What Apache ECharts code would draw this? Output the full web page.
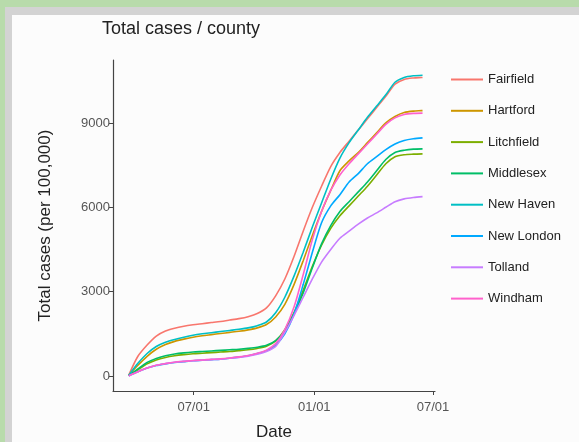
<!DOCTYPE html>
<html>
<head>
<meta charset="utf-8">
<script src="https://cdn.jsdelivr.net/npm/echarts@6/dist/echarts.min.js"></script>
<style>
html,body{margin:0;padding:0;width:579px;height:442px;overflow:hidden;background:#b8dbab;}
#frame{position:absolute;left:5px;top:7px;right:0;bottom:0;background:#d3d3d3;}
#inner{position:absolute;left:12px;top:15px;right:0;bottom:0;background:#fcfcfc;}
#chart{position:absolute;left:0;top:0;width:579px;height:442px;}
</style>
</head>
<body>
<div id="frame"></div>
<div id="inner"></div>
<div id="chart"></div>
<script>
var dates = ['2020-03-24','2020-04-07','2020-04-21','2020-05-05','2020-05-19','2020-06-02','2020-06-16','2020-06-30','2020-07-14','2020-07-28','2020-08-11','2020-08-25','2020-09-08','2020-09-22','2020-10-06','2020-10-20','2020-11-03','2020-11-17','2020-12-01','2020-12-15','2020-12-29','2021-01-12','2021-01-26','2021-02-09','2021-02-23','2021-03-09','2021-03-23','2021-04-06','2021-04-20','2021-05-04','2021-05-18','2021-06-01','2021-06-15'];

var counties = ['Fairfield','Hartford','Litchfield','Middlesex','New Haven','New London','Tolland','Windham'];
var colors = ['#F8766D','#CD9600','#7CAE00','#00BE67','#00BFC4','#00A9FF','#C77CFF','#FF61CC'];

var fairfield  = [30,700,1100,1420,1600,1700,1770,1820,1860,1900,1940,1990,2040,2110,2220,2420,2850,3450,4250,5150,6000,6750,7450,7950,8350,8750,9150,9550,9950,10380,10550,10600,10620];
var hartford   = [20,380,700,950,1120,1230,1310,1380,1430,1470,1510,1550,1590,1640,1710,1830,2100,2550,3250,4100,5000,5850,6600,7300,7650,7950,8300,8650,9000,9230,9370,9420,9440];
var litchfield = [10,220,430,570,660,720,760,790,810,830,850,870,900,930,980,1060,1250,1650,2250,3050,3900,4650,5250,5700,6050,6400,6750,7150,7550,7800,7870,7890,7900];
var middlesex  = [10,250,480,620,720,780,820,850,870,890,910,930,950,980,1020,1090,1260,1600,2200,2950,3850,4700,5350,5850,6200,6550,6900,7300,7700,7950,8030,8070,8080];
var newHaven   = [20,450,800,1050,1200,1300,1380,1450,1500,1540,1580,1620,1660,1710,1790,1920,2250,2800,3550,4400,5300,6150,7000,7750,8300,8750,9200,9600,10000,10450,10620,10680,10700];
var newLondon  = [10,150,280,370,430,480,510,540,560,580,600,630,670,720,800,900,1100,1500,2200,3250,4400,5450,6050,6450,6900,7200,7550,7800,8050,8250,8380,8440,8470];
var tolland    = [0,150,280,380,440,490,520,540,560,580,600,630,660,700,770,870,1050,1550,2150,2800,3450,4050,4500,4900,5150,5400,5620,5800,6000,6200,6300,6350,6380];
var windham    = [10,150,280,380,440,490,520,550,570,590,610,640,680,730,810,920,1150,1650,2450,3600,4850,5850,6600,7150,7550,7900,8250,8600,8950,9180,9300,9340,9350];

var seriesValues = [fairfield,hartford,litchfield,middlesex,newHaven,newLondon,tolland,windham];

var xTickDates = ['2020-07-01','2021-01-01','2021-07-01'];
var xTickLabels = ['07/01','01/01','07/01'];
var yTicks = [0,3000,6000,9000];

function ts(d){ return Date.UTC(+d.slice(0,4), +d.slice(5,7)-1, +d.slice(8,10)); }
var xTickValues = xTickDates.map(ts);

var chart = echarts.init(document.getElementById('chart'), null, {renderer:'canvas'});
var font = 'Liberation Sans, Arial, sans-serif';

var series = counties.map(function(name, i){
  return {
    name: name,
    type: 'line',
    data: dates.map(function(d, j){ return [ts(d), seriesValues[i][j]]; }),
    showSymbol: false,
    symbol: 'none',
    smooth: 0.25,
    lineStyle: {width: 1.6, color: colors[i]},
    itemStyle: {color: colors[i]},
    emphasis: {disabled: true},
    z: 2 + i
  };
});

chart.setOption({
  animation: false,
  backgroundColor: 'transparent',
  color: colors,
  title: {
    text: 'Total cases / county',
    left: 102, top: 20, padding: 0,
    textStyle: {fontFamily: font, fontSize: 18, fontWeight: 'normal', color: '#222'}
  },
  grid: {left: 113, top: 60, right: 144, bottom: 51, containLabel: false, outerBoundsMode: 'none'},
  legend: {
    orient: 'vertical',
    left: 451, top: 71.5, padding: 0,
    itemWidth: 32, itemHeight: 2,
    itemGap: 15.3,
    icon: 'rect',
    data: counties,
    textStyle: {fontFamily: font, fontSize: 13, color: '#222', lineHeight: 16}
  },
  xAxis: {
    type: 'value',
    min: ts('2020-02-29'),
    max: ts('2021-07-04'),
    name: 'Date',
    nameLocation: 'middle',
    nameGap: 33,
    nameTextStyle: {fontFamily: font, fontSize: 17, color: '#222'},
    axisLine: {show: true, onZero: false, lineStyle: {color: '#444', width: 1.2}},
    axisTick: {show: true, length: 4, lineStyle: {color: '#444'}, customValues: xTickValues},
    axisLabel: {
      fontFamily: font, fontSize: 13, color: '#555', margin: 10,
      customValues: xTickValues,
      formatter: function(v){
        var idx = xTickValues.indexOf(v);
        return idx >= 0 ? xTickLabels[idx] : '';
      }
    },
    splitLine: {show: false}
  },
  yAxis: {
    type: 'value',
    min: -535,
    max: 11240,
    name: 'Total cases (per 100,000)',
    nameLocation: 'middle',
    nameGap: 59,
    nameRotate: 90,
    nameTextStyle: {fontFamily: font, fontSize: 17, color: '#222'},
    axisLine: {show: true, onZero: false, lineStyle: {color: '#444', width: 1.2}},
    axisTick: {show: true, length: 4, lineStyle: {color: '#444'}, customValues: yTicks},
    axisLabel: {fontFamily: font, fontSize: 13, color: '#555', margin: 3, customValues: yTicks,
      formatter: function(v){ return String(v); }},
    splitLine: {show: false}
  },
  series: series
});
</script>
</body>
</html>
